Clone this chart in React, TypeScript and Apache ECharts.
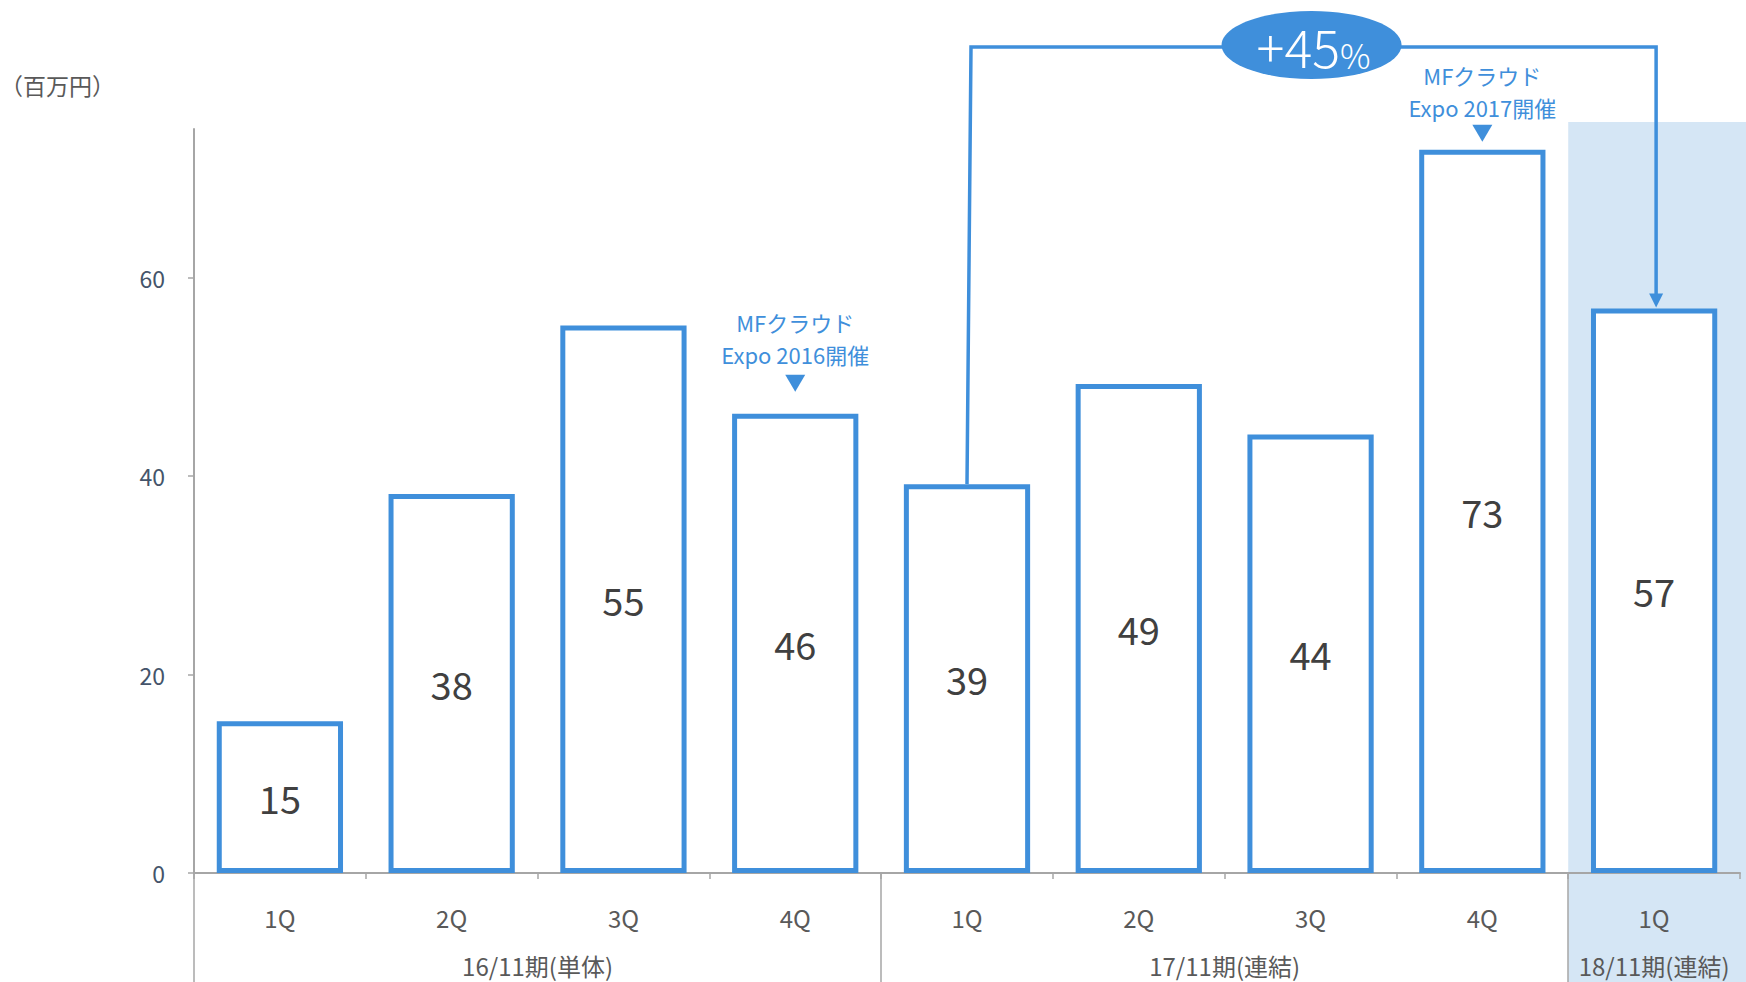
import React, { useEffect, useRef } from 'react';
import * as echarts from 'echarts';

const quarters = ['1Q', '2Q', '3Q', '4Q', '1Q', '2Q', '3Q', '4Q', '1Q'];
const values = [15.3, 38.2, 55.2, 46.3, 39.2, 49.3, 44.2, 72.9, 56.9];
const periods = ['16/11期(単体)', '17/11期(連結)', '18/11期(連結)'];
const periodCenters = [2, 6, 8.5];
const periodBounds = [0, 4, 8];
const yTicks = [0, 20, 40, 60];
const unitLabel = '（百万円）';
const growthFrom = 4;
const growthTo = 8;
const growthText = '+45';
const eventIndexes = [3, 7];
const eventLine1 = ['MFクラウド', 'MFクラウド'];
const eventLine2 = ['Expo 2016開催', 'Expo 2017開催'];
const highlightIndex = 8;

// annotation offsets above bar tops (pixels): [triangle gap, text block centre]
const eventGaps = [
  [22, 75.5],
  [8, 58.5],
];

const BLUE = '#3F8FDB';
const FONT = '"Noto Sans CJK JP", "Noto Sans", sans-serif';

export default function App() {
  const ref = useRef<HTMLDivElement>(null);
  useEffect(() => {
    if (!ref.current) return;
    const chart = echarts.init(ref.current, null, { renderer: 'svg' });
    chart.setOption({
      animation: false,
      backgroundColor: '#fff',
      textStyle: { fontFamily: FONT },
      grid: { left: 194, right: 6, top: 129, bottom: 109, containLabel: false },
      xAxis: [
        {
          type: 'category',
          data: quarters,
          position: 'bottom',
          axisLine: { lineStyle: { color: '#A6A6A6', width: 2 } },
          axisTick: { show: true, length: 6, lineStyle: { color: '#A6A6A6', width: 1.5 } },
          axisLabel: { color: '#595959', fontSize: 24, margin: 32, fontFamily: FONT },
        },
        {
          type: 'value',
          min: 0,
          max: 9,
          position: 'bottom',
          axisLine: { show: false },
          splitLine: { show: false },
          axisTick: {
            show: true,
            length: 112,
            customValues: periodBounds,
            lineStyle: { color: '#A6A6A6', width: 1.5 },
          },
          axisLabel: {
            customValues: periodCenters,
            margin: 80,
            color: '#595959',
            fontSize: 24,
            fontFamily: FONT,
            formatter: (v: number) => {
              const i = periodCenters.indexOf(v);
              return i >= 0 ? periods[i] : '';
            },
          },
        },
      ],
      yAxis: {
        type: 'value',
        min: 0,
        max: 75,
        splitLine: { show: false },
        axisLine: { show: true, lineStyle: { color: '#A6A6A6', width: 2 } },
        axisTick: { show: true, length: 6, customValues: yTicks, lineStyle: { color: '#A6A6A6', width: 1.5 } },
        axisLabel: { customValues: yTicks, color: '#44546A', fontSize: 23, margin: 29, fontFamily: FONT },
      },
      series: [
        {
          type: 'bar',
          data: values,
          xAxisIndex: 0,
          yAxisIndex: 0,
          barWidth: '73.5%',
          z: 3,
          itemStyle: { color: '#FFFFFF', borderColor: BLUE, borderWidth: 5 },
          label: {
            show: true,
            position: 'inside',
            color: '#404040',
            fontSize: 38,
            fontFamily: FONT,
            formatter: (p: any) => String(Math.round(p.value)),
          },
        },
      ],
    });

    const px = (i: number, v: number) =>
      chart.convertToPixel({ xAxisIndex: 0, yAxisIndex: 0 }, [i, v]) as number[];
    const band = px(1, 0)[0] - px(0, 0)[0];
    const top = px(0, 75)[1];
    const graphics: any[] = [];

    // highlight background
    const hx = px(highlightIndex, 0)[0] - band / 2;
    graphics.push({
      type: 'rect',
      z: -10,
      shape: { x: hx, y: top - 7, width: 1746 - hx, height: 982 - (top - 7) },
      style: { fill: '#D5E6F5' },
    });

    // unit label
    graphics.push({
      type: 'text',
      x: 0,
      y: 85,
      style: { text: unitLabel, fill: '#595959', font: `23px ${FONT}`, verticalAlign: 'middle' },
    });

    // event annotations
    eventIndexes.forEach((idx, k) => {
      const p = px(idx, values[idx]);
      const [tg, mid] = eventGaps[k];
      graphics.push({
        type: 'polygon',
        z: 10,
        shape: { points: [[p[0] - 10, p[1] - tg - 17], [p[0] + 10, p[1] - tg - 17], [p[0], p[1] - tg]] },
        style: { fill: BLUE },
      });
      graphics.push({
        type: 'text',
        z: 10,
        x: p[0],
        y: p[1] - mid + 16,
        style: {
          text: eventLine2[k],
          fill: BLUE,
          font: `22px ${FONT}`,
          align: 'center',
          verticalAlign: 'middle',
        },
      });
      graphics.push({
        type: 'text',
        z: 10,
        x: p[0],
        y: p[1] - mid - 16,
        style: {
          text: eventLine1[k],
          fill: BLUE,
          font: `22px ${FONT}`,
          align: 'center',
          verticalAlign: 'middle',
        },
      });
    });

    // growth bracket
    const a = px(growthFrom, values[growthFrom]);
    const b = px(growthTo, values[growthTo]);
    const ly = top - 82;
    const bx = b[0] + 2;
    graphics.push({
      type: 'polyline',
      z: 10,
      shape: { points: [[a[0], a[1]], [a[0] + 4, ly], [bx, ly], [bx, b[1] - 14]] },
      style: { stroke: BLUE, lineWidth: 3.5, fill: null },
    });
    graphics.push({
      type: 'polygon',
      z: 10,
      shape: { points: [[bx - 7, b[1] - 15], [bx + 7, b[1] - 15], [bx, b[1] - 1]] },
      style: { fill: BLUE },
    });
    const mx = (a[0] + bx) / 2;
    graphics.push({
      type: 'ellipse',
      z: 11,
      shape: { cx: mx, cy: ly - 2, rx: 90, ry: 34 },
      style: { fill: BLUE },
    });
    graphics.push({
      type: 'text',
      z: 12,
      x: mx + 2,
      y: ly - 2,
      style: {
        text: `{a|${growthText}}{b|%}`,
        align: 'center',
        verticalAlign: 'middle',
        rich: {
          a: { fontSize: 52, fontWeight: 300, fill: '#FFFFFF', fontFamily: FONT, verticalAlign: 'bottom' },
          b: { fontSize: 34, fontWeight: 300, fill: '#FFFFFF', fontFamily: FONT, verticalAlign: 'bottom' },
        },
      },
    });

    chart.setOption({ graphic: graphics });
    return () => chart.dispose();
  }, []);
  return <div ref={ref} style={{ width: 1746, height: 982, position: 'absolute', left: 0, top: 0 }} />;
}
